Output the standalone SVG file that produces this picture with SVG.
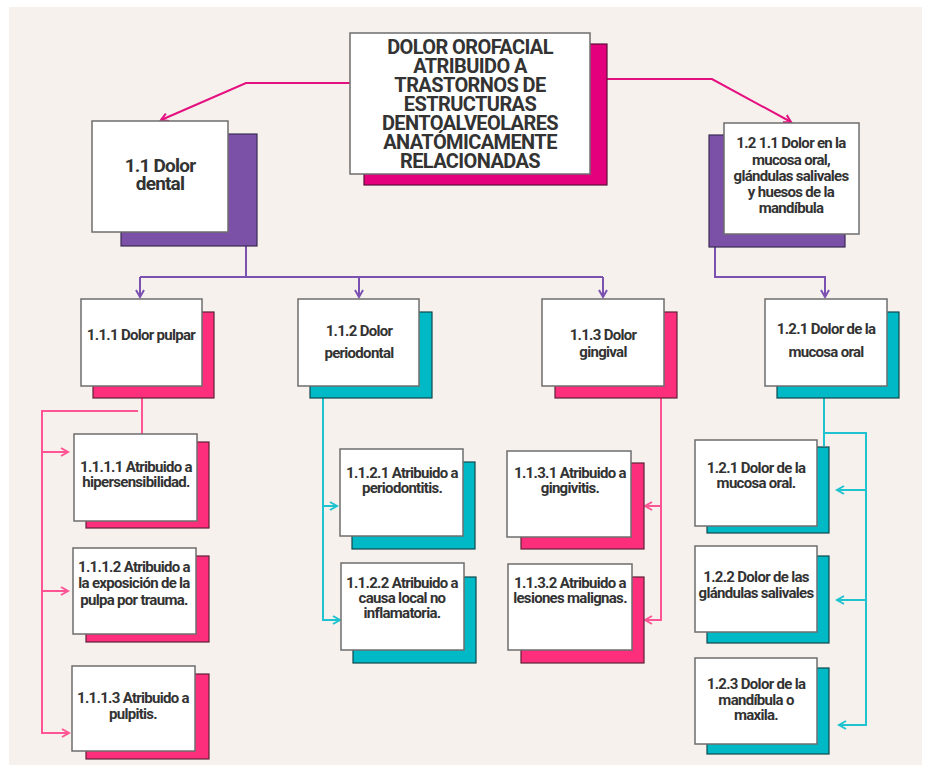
<svg xmlns="http://www.w3.org/2000/svg" width="930" height="774" viewBox="0 0 930 774">
<style>
.bg{fill:#f6f1ed}
.card{fill:#ffffff;stroke:#6e6e6e;stroke-width:1.5}
.shp{fill:#7b50a7;stroke:#3b2b52;stroke-width:1.2}
.shk{fill:#fd2e7c;stroke:#5c2136;stroke-width:1.2}
.sht{fill:#00b9c6;stroke:#10474c;stroke-width:1.2}
.shm{fill:#e4007d;stroke:#5a1038;stroke-width:1.2}
text{font-family:Roboto,"Liberation Sans",sans-serif;font-weight:bold;fill:#333333;text-anchor:middle}
.title{font-size:20px;letter-spacing:-0.6px}
.big{font-size:19px;letter-spacing:-0.8px}
.mid{font-size:15px;letter-spacing:-0.7px}
.sm{font-size:15px;letter-spacing:-0.7px}
.c{fill:none;stroke-width:2}
.cm{stroke:#e5107f}
.cp{stroke:#7c52b0}
.ck{stroke:#ff5594}
.ct{stroke:#1fc3cf}
</style>
<defs>
<marker id="am" markerUnits="userSpaceOnUse" markerWidth="12" markerHeight="12" refX="8" refY="5" orient="auto"><path d="M1,1 L8,5 L1,9" fill="none" stroke="#e5107f" stroke-width="2"/></marker>
<marker id="ap" markerUnits="userSpaceOnUse" markerWidth="12" markerHeight="12" refX="8" refY="5" orient="auto"><path d="M1,1 L8,5 L1,9" fill="none" stroke="#7c52b0" stroke-width="2"/></marker>
<marker id="ak" markerUnits="userSpaceOnUse" markerWidth="12" markerHeight="12" refX="8" refY="5" orient="auto"><path d="M1,1 L8,5 L1,9" fill="none" stroke="#ff5594" stroke-width="2"/></marker>
<marker id="at" markerUnits="userSpaceOnUse" markerWidth="12" markerHeight="12" refX="8" refY="5" orient="auto"><path d="M1,1 L8,5 L1,9" fill="none" stroke="#1fc3cf" stroke-width="2"/></marker>
</defs>
<rect x="0" y="0" width="930" height="774" fill="#ffffff"/>
<rect class="bg" x="9" y="7" width="913" height="758"/>

<g id="connectors">
<polyline class="c cm" points="350,83 246,83 161,120" marker-end="url(#am)"/>
<polyline class="c cm" points="607,79 712,79 791,122" marker-end="url(#am)"/>
<path class="c cp" d="M246,246 V277"/>
<path class="c cp" d="M140,277 H603"/>
<path class="c cp" d="M140,277 V297" marker-end="url(#ap)"/>
<path class="c cp" d="M359,277 V297" marker-end="url(#ap)"/>
<path class="c cp" d="M603,277 V297" marker-end="url(#ap)"/>
<path class="c cp" d="M715,247 V277 H825 V297" marker-end="url(#ap)"/>
<path class="c ck" d="M142,398 V434"/>
<path class="c ck" d="M138,411 H42 V733 H69" marker-end="url(#ak)"/>
<path class="c ck" d="M42,452 H68" marker-end="url(#ak)"/>
<path class="c ck" d="M42,591 H68" marker-end="url(#ak)"/>
<path class="c ct" d="M323,398 V620 H340" marker-end="url(#at)"/>
<path class="c ct" d="M323,506 H337" marker-end="url(#at)"/>
<path class="c ck" d="M661,398 V620 H645" marker-end="url(#ak)"/>
<path class="c ck" d="M661,506 H645" marker-end="url(#ak)"/>
<path class="c ct" d="M824,398 V446"/>
<path class="c ct" d="M824,433 H866 V725 H839" marker-end="url(#at)"/>
<path class="c ct" d="M866,490 H837" marker-end="url(#at)"/>
<path class="c ct" d="M866,600 H837" marker-end="url(#at)"/>
</g>

<g id="n-root">
<rect class="shm" x="364" y="44" width="243" height="141"/>
<rect class="card" x="350" y="33" width="240" height="141"/>
<text class="title" x="470" y="54">DOLOR OROFACIAL</text>
<text class="title" x="470" y="73">ATRIBUIDO A</text>
<text class="title" x="470" y="92">TRASTORNOS DE</text>
<text class="title" x="470" y="111">ESTRUCTURAS</text>
<text class="title" x="470" y="130">DENTOALVEOLARES</text>
<text class="title" x="470" y="149">ANATÓMICAMENTE</text>
<text class="title" x="470" y="168">RELACIONADAS</text>
</g>

<g id="n-1-1">
<rect class="shp" x="121" y="134" width="136" height="112"/>
<rect class="card" x="92" y="121" width="136" height="111"/>
<text class="big" x="160" y="172">1.1 Dolor</text>
<text class="big" x="160" y="190">dental</text>
</g>

<g id="n-1-2">
<rect class="shp" x="709" y="135" width="136" height="112"/>
<rect class="card" x="724" y="123" width="135" height="111"/>
<text class="mid" x="791" y="148">1.2 1.1 Dolor en la</text>
<text class="mid" x="791" y="165">mucosa oral,</text>
<text class="mid" x="791" y="181">glándulas salivales</text>
<text class="mid" x="791" y="197">y huesos de la</text>
<text class="mid" x="791" y="213">mandíbula</text>
</g>

<g id="n-1-1-1">
<rect class="shk" x="93" y="312" width="121" height="86"/>
<rect class="card" x="81" y="299" width="121" height="87"/>
<text class="sm" x="141" y="340">1.1.1 Dolor pulpar</text>
</g>

<g id="n-1-1-2">
<rect class="sht" x="310" y="312" width="122" height="86"/>
<rect class="card" x="298" y="299" width="121" height="87"/>
<text class="sm" x="359" y="336">1.1.2 Dolor</text>
<text class="sm" x="359" y="358">periodontal</text>
</g>

<g id="n-1-1-3">
<rect class="shk" x="555" y="312" width="122" height="86"/>
<rect class="card" x="542" y="299" width="122" height="87"/>
<text class="sm" x="603" y="340">1.1.3 Dolor</text>
<text class="sm" x="603" y="357">gingival</text>
</g>

<g id="n-1-2-1">
<rect class="sht" x="777" y="312" width="122" height="86"/>
<rect class="card" x="765" y="299" width="122" height="87"/>
<text class="sm" x="826" y="334">1.2.1 Dolor de la</text>
<text class="sm" x="826" y="357">mucosa oral</text>
</g>

<g id="n-1-1-1-1">
<rect class="shk" x="86" y="442" width="123" height="86"/>
<rect class="card" x="74" y="434" width="123" height="87"/>
<text class="sm" x="136" y="472">1.1.1.1 Atribuido a</text>
<text class="sm" x="136" y="487">hipersensibilidad.</text>
</g>

<g id="n-1-1-1-2">
<rect class="shk" x="86" y="556" width="123" height="86"/>
<rect class="card" x="73" y="548" width="123" height="86"/>
<text class="sm" x="134" y="572">1.1.1.2 Atribuido a</text>
<text class="sm" x="134" y="588">la exposición de la</text>
<text class="sm" x="134" y="605">pulpa por trauma.</text>
</g>

<g id="n-1-1-1-3">
<rect class="shk" x="86" y="674" width="123" height="85"/>
<rect class="card" x="72" y="666" width="123" height="85"/>
<text class="sm" x="133" y="703">1.1.1.3 Atribuido a</text>
<text class="sm" x="133" y="719">pulpitis.</text>
</g>

<g id="n-1-1-2-1">
<rect class="sht" x="352" y="462" width="123" height="87"/>
<rect class="card" x="340" y="449" width="123" height="87"/>
<text class="sm" x="402" y="478">1.1.2.1 Atribuido a</text>
<text class="sm" x="402" y="493">periodontitis.</text>
</g>

<g id="n-1-1-2-2">
<rect class="sht" x="353" y="577" width="123" height="86"/>
<rect class="card" x="341" y="563" width="123" height="87"/>
<text class="sm" x="402" y="588">1.1.2.2 Atribuido a</text>
<text class="sm" x="402" y="603">causa local no</text>
<text class="sm" x="402" y="618">inflamatoria.</text>
</g>

<g id="n-1-1-3-1">
<rect class="shk" x="521" y="463" width="123" height="86"/>
<rect class="card" x="507" y="451" width="124" height="86"/>
<text class="sm" x="570" y="478">1.1.3.1 Atribuido a</text>
<text class="sm" x="570" y="493">gingivitis.</text>
</g>

<g id="n-1-1-3-2">
<rect class="shk" x="521" y="577" width="123" height="86"/>
<rect class="card" x="508" y="564" width="124" height="86"/>
<text class="sm" x="570" y="588">1.1.3.2 Atribuido a</text>
<text class="sm" x="570" y="603">lesiones malignas.</text>
</g>

<g id="n-1-2-1-b">
<rect class="sht" x="707" y="447" width="122" height="86"/>
<rect class="card" x="695" y="440" width="122" height="86"/>
<text class="sm" x="756" y="473">1.2.1 Dolor de la</text>
<text class="sm" x="756" y="488">mucosa oral.</text>
</g>

<g id="n-1-2-2">
<rect class="sht" x="707" y="556" width="122" height="87"/>
<rect class="card" x="695" y="546" width="122" height="86"/>
<text class="sm" x="756" y="582">1.2.2 Dolor de las</text>
<text class="sm" x="756" y="598">glándulas salivales</text>
</g>

<g id="n-1-2-3">
<rect class="sht" x="707" y="668" width="122" height="86"/>
<rect class="card" x="695" y="658" width="122" height="86"/>
<text class="sm" x="756" y="689">1.2.3 Dolor de la</text>
<text class="sm" x="756" y="705">mandíbula o</text>
<text class="sm" x="756" y="720">maxila.</text>
</g>
</svg>
